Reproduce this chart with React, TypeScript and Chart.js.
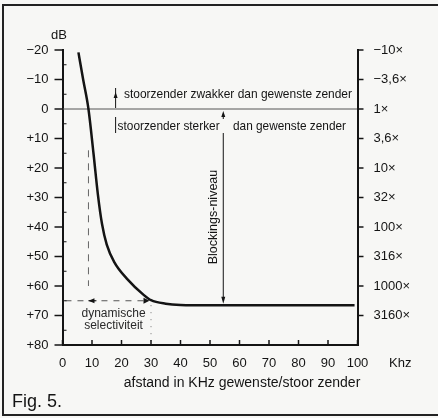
import React, { useEffect, useRef } from 'react';
import { Chart, registerables } from 'chart.js';

Chart.register(...registerables);

// ---- data ----
const curveKhz = [5.4, 7, 8.8, 10.5, 12, 13.4, 15, 17.6, 21.8, 27.5, 30, 35, 40, 50, 70, 99];
const curveDb = [-19.2, -10, 0, 15, 29, 39, 46, 52, 57.5, 63, 64.8, 66, 66.4, 66.5, 66.5, 66.5];
const xTicks = [0, 10, 20, 30, 40, 50, 60, 70, 80, 90, 100];
const leftTicks = [-20, -10, 0, 10, 20, 30, 40, 50, 60, 70, 80];
const rightTickDb = [-20, -10, 0, 10, 20, 30, 40, 50, 60, 70];
const rightTickLabels = ['−10×', '−3,6×', '1×', '3,6×', '10×', '32×', '100×', '316×', '1000×', '3160×'];

// annotation anchor values (data space)
const dynKhz = [8.8, 29.5];
const dynDb = 65;
const blockKhz = 54.5;
const blockDb = [0, 66.5];
const markerKhz = 18;

const FONT = "'Liberation Sans', Arial, Helvetica, sans-serif";
const INK = '#141414';

export default function App() {
  const ref = useRef<HTMLCanvasElement>(null);

  useEffect(() => {
    const canvas = ref.current;
    if (!canvas) return;

    const pts = curveKhz.map((x, i) => ({ x, y: curveDb[i] }));

    const seg = (data: { x: number; y: number }[], color: string, width: number, dash: number[] = []) => ({
      type: 'line' as const,
      data,
      borderColor: color,
      borderWidth: width,
      borderDash: dash,
      pointRadius: 0,
      fill: false,
      tension: 0,
    });

    const arrowHead = (ctx: CanvasRenderingContext2D, x: number, y: number, dir: 'up' | 'down' | 'left' | 'right', len = 6, half = 2.5) => {
      ctx.beginPath();
      ctx.moveTo(x, y);
      if (dir === 'up') { ctx.lineTo(x - half, y + len); ctx.lineTo(x + half, y + len); }
      if (dir === 'down') { ctx.lineTo(x - half, y - len); ctx.lineTo(x + half, y - len); }
      if (dir === 'left') { ctx.lineTo(x + len, y - half); ctx.lineTo(x + len, y + half); }
      if (dir === 'right') { ctx.lineTo(x - len, y - half); ctx.lineTo(x - len, y + half); }
      ctx.closePath();
      ctx.fill();
    };

    const overlay = {
      id: 'overlay',
      afterDraw(chart: any) {
        const ctx: CanvasRenderingContext2D = chart.ctx;
        const xs = chart.scales.x;
        const ys = chart.scales.y;
        const area = chart.chartArea;
        ctx.save();
        ctx.strokeStyle = INK;
        ctx.fillStyle = INK;

        // tick marks
        ctx.lineWidth = 1.5;
        leftTicks.forEach((v) => {
          const py = ys.getPixelForValue(v);
          ctx.beginPath(); ctx.moveTo(area.left - 8, py); ctx.lineTo(area.left, py); ctx.stroke();
        });
        ctx.lineWidth = 1;
        leftTicks.slice(0, -1).forEach((v) => {
          const py = ys.getPixelForValue(v + 5);
          ctx.beginPath(); ctx.moveTo(area.left, py); ctx.lineTo(area.left + 4, py); ctx.stroke();
        });
        ctx.lineWidth = 1.5;
        xTicks.forEach((v) => {
          const px = xs.getPixelForValue(v);
          ctx.beginPath(); ctx.moveTo(px, area.bottom); ctx.lineTo(px, area.bottom - 5); ctx.stroke();
        });
        rightTickDb.forEach((v) => {
          const py = ys.getPixelForValue(v);
          ctx.beginPath(); ctx.moveTo(area.right, py); ctx.lineTo(area.right + 6, py); ctx.stroke();
        });

        // arrows: dynamische selectiviteit
        const yDyn = ys.getPixelForValue(dynDb);
        const xa = xs.getPixelForValue(dynKhz[0]);
        const xb = xs.getPixelForValue(dynKhz[1]);
        ctx.lineWidth = 1;
        ctx.beginPath(); ctx.moveTo(xa, yDyn); ctx.lineTo(xa + 8, yDyn); ctx.stroke();
        arrowHead(ctx, xa, yDyn, 'left', 6, 2.5);
        arrowHead(ctx, xb, yDyn, 'right', 6, 3);

        // Blockings-niveau arrow
        const xbk = xs.getPixelForValue(blockKhz);
        const yTop = ys.getPixelForValue(blockDb[0]) + 2;
        const yBot = ys.getPixelForValue(blockDb[1]) - 1.5;
        ctx.beginPath(); ctx.moveTo(xbk, yTop + 4); ctx.lineTo(xbk, yTop + 8); ctx.stroke();
        arrowHead(ctx, xbk, yTop, 'up', 6, 2);
        ctx.beginPath(); ctx.moveTo(xbk, yTop + 22); ctx.lineTo(xbk, yBot - 4); ctx.stroke();
        arrowHead(ctx, xbk, yBot, 'down', 7, 2);

        // small marker arrows near 18 kHz
        const xm = xs.getPixelForValue(markerKhz);
        const y0 = ys.getPixelForValue(0);
        ctx.lineWidth = 1;
        ctx.beginPath(); ctx.moveTo(xm, y0 - 21); ctx.lineTo(xm, y0 - 1); ctx.stroke();
        arrowHead(ctx, xm, y0 - 17, 'up', 6, 2);
        ctx.beginPath(); ctx.moveTo(xm, y0 + 8); ctx.lineTo(xm, y0 + 24); ctx.stroke();

        // texts
        ctx.fillStyle = INK;
        ctx.textBaseline = 'middle';
        ctx.textAlign = 'left';
        ctx.font = `13px ${FONT}`;
        ctx.fillText('stoorzender zwakker dan gewenste zender', 124, y0 - 15, 228);
        ctx.fillText('stoorzender sterker', xm + 2, y0 + 17, 102);
        ctx.fillText('dan gewenste zender', 233, y0 + 17, 113);

        ctx.font = `12px ${FONT}`;
        ctx.fillStyle = '#2a2a2a';
        ctx.textAlign = 'center';
        const xDynMid = xs.getPixelForValue(17.3);
        ctx.fillText('dynamische', xDynMid, yDyn + 13);
        ctx.fillText('selectiviteit', xDynMid, yDyn + 25);

        ctx.save();
        ctx.font = `12.5px ${FONT}`;
        ctx.translate(xbk - 9.5, 217);
        ctx.rotate(-Math.PI / 2);
        ctx.fillStyle = INK;
        ctx.fillText('Blockings-niveau', 0, 0);
        ctx.restore();

        ctx.fillStyle = INK;
        ctx.font = `13px ${FONT}`;
        ctx.textAlign = 'center';
        ctx.fillText('dB', 59, 35);
        ctx.textAlign = 'left';
        ctx.fillText('Khz', 389, 363);
        ctx.font = `14px ${FONT}`;
        ctx.textAlign = 'center';
        ctx.fillText('afstand in KHz gewenste/stoor zender', 242, 383);
        ctx.font = `18px ${FONT}`;
        ctx.textAlign = 'left';
        ctx.fillText('Fig. 5.', 12, 402);

        // frame
        ctx.strokeStyle = '#222';
        ctx.lineWidth = 2;
        ctx.strokeRect(3, 5, 440, 410);
        ctx.restore();
      },
    };

    const chart = new Chart(canvas, {
      type: 'line',
      data: {
        datasets: [
          {
            type: 'line',
            data: pts,
            borderColor: INK,
            borderWidth: 2.5,
            pointRadius: 0,
            fill: false,
            cubicInterpolationMode: 'monotone',
          },
          seg([{ x: 0, y: 0 }, { x: 100, y: 0 }], '#555', 1),
          seg([{ x: dynKhz[0], y: 14 }, { x: dynKhz[0], y: 60 }], '#666', 1, [7, 6]),
          seg([{ x: 1, y: dynDb }, { x: dynKhz[1], y: dynDb }], '#555', 1, [6, 6]),
          seg([{ x: 30, y: 66.5 }, { x: 30, y: 80 }], '#777', 1, [1, 6]),
        ] as any,
      },
      options: {
        animation: false,
        responsive: true,
        maintainAspectRatio: false,
        devicePixelRatio: 1,
        layout: { padding: { top: 50, left: 0, right: 0, bottom: 0 } },
        plugins: { legend: { display: false }, tooltip: { enabled: false }, title: { display: false } },
        scales: {
          x: {
            type: 'linear',
            position: 'bottom',
            min: 0,
            max: 100,
            ticks: { stepSize: 10, color: INK, font: { family: FONT, size: 13 }, padding: 11, maxRotation: 0, autoSkip: false },
            grid: { display: false, drawTicks: false },
            border: { display: true, color: INK, width: 2 },
            afterFit: (s: any) => { s.height = 73; },
          },
          y: {
            type: 'linear',
            position: 'left',
            reverse: true,
            min: -20,
            max: 80,
            ticks: {
              stepSize: 10,
              color: INK,
              font: { family: FONT, size: 13 },
              padding: 14,
              callback: (v: any) => (v > 0 ? `+${v}` : v < 0 ? `−${Math.abs(v)}` : '0'),
            },
            grid: { display: false, drawTicks: false },
            border: { display: true, color: INK, width: 2 },
            afterFit: (s: any) => { s.width = 62.5; },
          },
          y2: {
            type: 'linear',
            position: 'right',
            reverse: true,
            min: -20,
            max: 80,
            ticks: {
              stepSize: 10,
              color: INK,
              font: { family: FONT, size: 13 },
              padding: 16,
              callback: (v: any) => {
                const i = rightTickDb.indexOf(Number(v));
                return i >= 0 ? rightTickLabels[i] : null;
              },
            },
            grid: { display: false, drawTicks: false },
            border: { display: true, color: INK, width: 2 },
            afterFit: (s: any) => { s.width = 80.5; },
          },
        },
      } as any,
      plugins: [overlay],
    });

    return () => chart.destroy();
  }, []);

  return (
    <div style={{ position: 'fixed', left: 0, top: 0, width: 438, height: 418, background: '#f7f7f5' }}>
      <canvas ref={ref} />
    </div>
  );
}
